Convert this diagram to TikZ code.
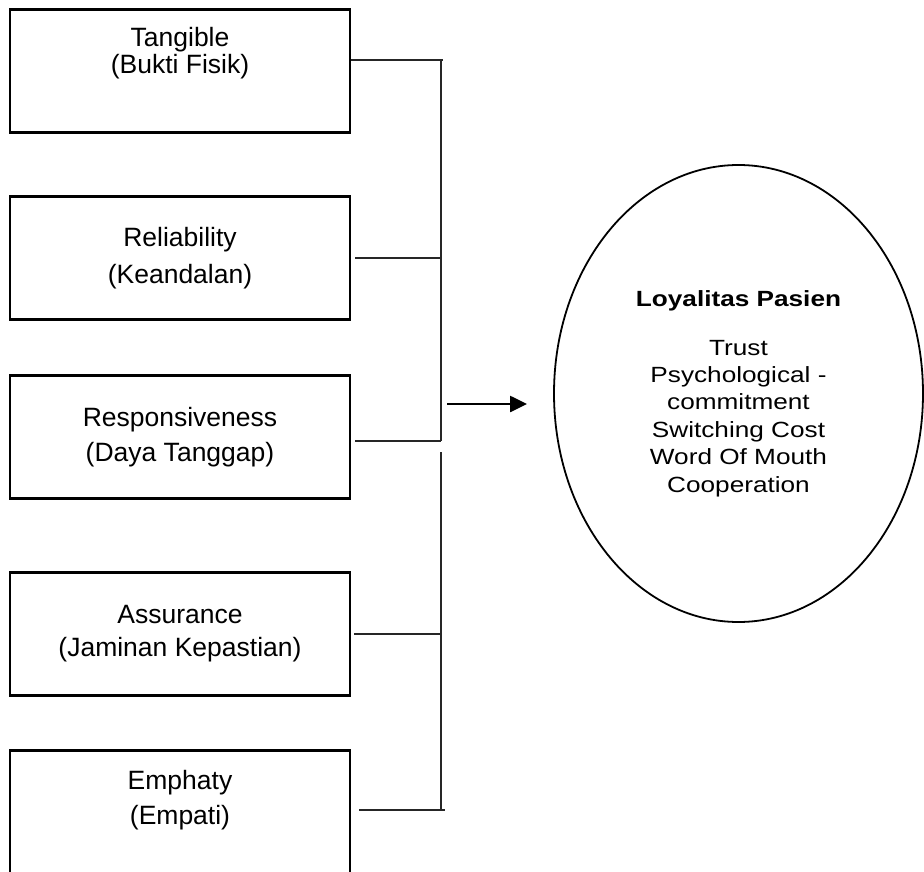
\documentclass[tikz,border=0pt]{standalone}
\usepackage{fontspec}
\setmainfont{Liberation Sans}
\newfontfamily\lebar{Liberation Sans}[FakeStretch=1.19]
\usetikzlibrary{arrows.meta,shapes.geometric}
\tikzset{
  kotak/.style={
    rectangle,
    draw=black,
    line width=2.5pt,
    minimum width=340pt,
    minimum height=123pt,
    align=center,
    inner sep=0pt,
    font=\fontsize{26.5}{29}\selectfont
  },
  loyal/.style={
    ellipse,
    draw=black,
    line width=1.8pt,
    minimum width=369pt,
    minimum height=457pt,
    align=center,
    inner sep=0pt,
    font=\lebar\fontsize{22}{27.4}\selectfont
  },
  garis/.style={
    line width=1.3pt,
    black!85
  },
  panah/.style={
    -{Triangle[length=17pt,width=16pt]},
    line width=2.6pt
  }
}

\begin{document}
\begin{tikzpicture}[x=1pt,y=-1pt]
\clip (0,0) rectangle (924,872);
\node[kotak] (tangible) at (180,71) {Tangible\\[-2pt](Bukti Fisik)\\[13pt]\mbox{}};
\node[kotak] (reliability) at (180,258) {Reliability\\[8pt](Keandalan)};
\node[kotak] (responsiveness) at (180,437) {Responsiveness\\[6pt](Daya Tanggap)};
\node[kotak] (assurance) at (180,634) {Assurance\\[4pt](Jaminan Kepastian)};
\node[kotak] (emphaty) at (180,812) {Emphaty\\[6pt](Empati)\\\mbox{}};
\node[loyal] (loyalitas) at (738.5,393.5) {\textbf{Loyalitas Pasien}\\[21.6pt]Trust\\Psychological -\\commitment\\Switching Cost\\Word Of Mouth\\Cooperation};
\coordinate (atas) at (441,60);
\coordinate (sambung) at (441,441);
\coordinate (lanjut) at (441,452);
\coordinate (bawah) at (441,810);
\coordinate (pangkal) at (447,404);
\coordinate (ujung) at (527,404);
\draw[garis] (atas) -- (sambung);
\draw[garis] (lanjut) -- (bawah);
\draw[garis] (tangible.east |- atas) -- ([xshift=2pt]atas);
\draw[garis, shorten <=4pt] (reliability.east) -- (reliability.east -| atas);
\draw[garis, shorten <=4pt] (responsiveness.east |- sambung) -- (sambung);
\draw[garis, shorten <=3pt] (assurance.east) -- (assurance.east -| atas);
\draw[garis, shorten <=8pt] (emphaty.east |- bawah) -- ([xshift=4pt]bawah);
\draw[panah] (pangkal) -- (ujung);
\end{tikzpicture}
\end{document}
